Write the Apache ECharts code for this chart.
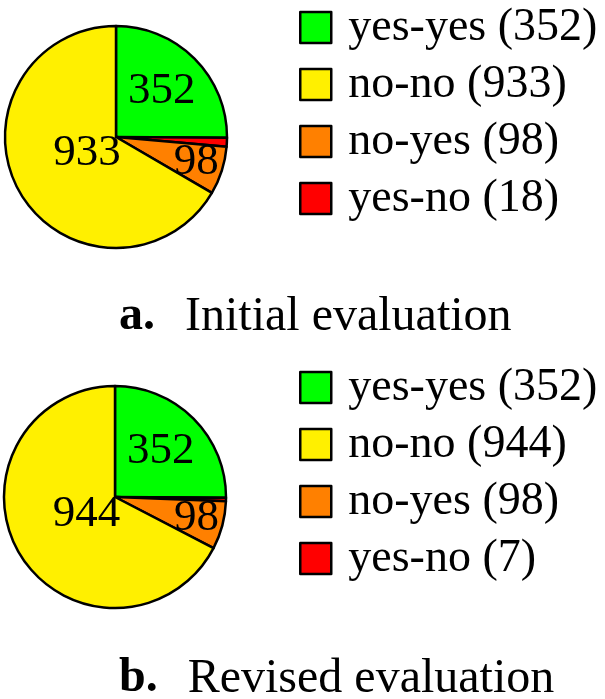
<!DOCTYPE html>
<html>
<head>
<meta charset="utf-8">
<script src="https://cdn.jsdelivr.net/npm/echarts@6/dist/echarts.min.js"></script>
<style>
  html, body { margin: 0; padding: 0; background: #fff; }
</style>
</head>
<body>
<div id="main" style="width:605px;height:699px;"></div>
<script type="text/javascript">
    // 数据
    var categories = ['yes-yes', 'no-no', 'no-yes', 'yes-no'];
    var initialValues = [352, 933, 98, 18];
    var revisedValues = [352, 944, 98, 7];
    var colors = ['#00ff00', '#fff000', '#ff8000', '#ff0000'];
    // slices drawn clockwise from 12 o'clock
    var sliceOrder = [0, 3, 2, 1];

    var FONT = '"Liberation Serif", "DejaVu Serif", serif';
    var pies = [
        {values: initialValues, cx: 116, cy: 137, r: 111},
        {values: revisedValues, cx: 115, cy: 497, r: 111}
    ];

    // label radius rule (pgf-pie style): big slices get labels nearer the centre
    function labelPos(values) {
        var total = values.reduce(function (a, b) { return a + b; }, 0);
        var start = 90, out = [];
        sliceOrder.forEach(function (k) {
            var ang = values[k] / total * 360;
            var mid = start - ang / 2;
            var f = 0.8 + Math.max(Math.min((ang - 10) / 110 * -0.3, 0), -0.5);
            out.push({mid: mid, f: f, ang: ang});
            start -= ang;
        });
        return out;
    }

    function buildSeries(p, idx) {
        var pos = labelPos(p.values);
        return {
            type: 'pie',
            name: idx === 0 ? 'Initial' : 'Revised',
            center: [p.cx, p.cy],
            radius: [0, p.r],
            startAngle: 90,
            clockwise: true,
            avoidLabelOverlap: false,
            animation: false,
            silent: true,
            itemStyle: {borderColor: '#000', borderWidth: 2.5},
            label: {
                show: true,
                position: 'inside',
                formatter: '{c}',
                color: '#000',
                fontFamily: FONT,
                fontSize: 45
            },
            labelLine: {show: false},
            labelLayout: function (params) {
                var q = pos[params.dataIndex];
                var rad = q.mid * Math.PI / 180;
                return {
                    x: p.cx + q.f * p.r * Math.cos(rad),
                    y: p.cy - q.f * p.r * Math.sin(rad),
                    align: 'center',
                    verticalAlign: 'middle'
                };
            },
            data: sliceOrder.map(function (k, i) {
                return {
                    name: categories[k],
                    value: p.values[k],
                    itemStyle: {color: colors[k]},
                    label: {show: pos[i].ang >= 10}
                };
            })
        };
    }

    function buildLegend(values, top) {
        return {
            orient: 'vertical',
            left: 299,
            top: top,
            padding: 0,
            icon: 'rect',
            itemWidth: 31,
            itemHeight: 31,
            itemGap: 11,
            selectedMode: false,
            itemStyle: {borderColor: '#000', borderWidth: 2.5},
            data: categories,
            formatter: function (name) {
                return name + ' (' + values[categories.indexOf(name)] + ')';
            },
            textStyle: {
                color: '#000',
                fontFamily: FONT,
                fontSize: 46,
                lineHeight: 44,
                padding: [0, 0, 0, 12]
            }
        };
    }

    function buildTitle(letter, text, top) {
        return {
            text: '{b|' + letter + '}{n|' + text + '}',
            left: 119,
            top: top,
            padding: 0,
            textStyle: {
                rich: {
                    b: {fontFamily: FONT, fontSize: 48, fontWeight: 'bold', color: '#000', lineHeight: 48, padding: [0, 30, 0, 0]},
                    n: {fontFamily: FONT, fontSize: 48, fontWeight: 'normal', color: '#000', lineHeight: 48}
                }
            }
        };
    }

    var myChart = echarts.init(document.getElementById('main'));
    var option = {
        backgroundColor: '#fff',
        animation: false,
        title: [
            buildTitle('a.', 'Initial evaluation', 293),
            buildTitle('b.', 'Revised evaluation', 655)
        ],
        legend: [
            buildLegend(initialValues, 4.5),
            buildLegend(revisedValues, 364.5)
        ],
        series: pies.map(buildSeries)
    };
    myChart.setOption(option);
</script>
</body>
</html>
